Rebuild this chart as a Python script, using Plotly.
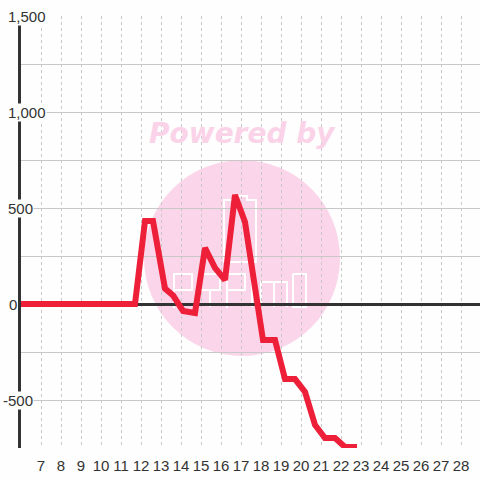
import plotly.graph_objects as go

# data
days = [5.7, 11.7, 12.2, 12.6, 13.2, 13.6, 14.1, 14.7, 15.2, 15.7, 16.2, 16.7, 17.2,
        18.1, 18.7, 19.2, 19.7, 20.2, 20.7, 21.2, 21.7, 22.2, 22.8]
values = [0, 0, 432, 432, 80, 45, -36, -47, 292, 188, 125, 568, 427,
          -188, -188, -391, -391, -458, -630, -698, -698, -745, -745]
x_ticks = list(range(7, 29))
y_label_vals = [-500, 0, 500, 1000, 1500]
y_label_text = ["-500", "0", "500", "1,000", "1,500"]

BG = "#fdfefd"
FONT = "Liberation Sans, Arial"
X0, X1 = 6, 28.95
Y0, Y1 = -750, 1500
L, T, W, H = 21, 16, 459, 432


def px2x(p):
    return X0 + (p - L) / W * (X1 - X0)


def py2y(p):
    return Y1 - (p - T) / H * (Y1 - Y0)


fig = go.Figure()
fig.add_trace(go.Scatter(x=days, y=values, mode="lines",
                         line=dict(color="#ee1f38", width=6),
                         hoverinfo="skip", showlegend=False))

fig.update_layout(
    width=480, height=480,
    margin=dict(l=L, r=480 - L - W, t=T, b=480 - T - H, autoexpand=False),
    paper_bgcolor=BG, plot_bgcolor=BG,
    showlegend=False,
    xaxis=dict(range=[X0, X1], tickvals=x_ticks, ticktext=[str(v) for v in x_ticks],
               tickangle=0,
               showgrid=True, gridcolor="#c8c8c8", gridwidth=1, griddash="3px,3px",
               zeroline=False, showline=False, ticks="outside", ticklen=4, tickcolor="rgba(0,0,0,0)",
               tickfont=dict(family=FONT, size=15, color="#333333")),
    yaxis=dict(range=[Y0, Y1], dtick=250, tick0=0, showticklabels=False,
               showgrid=True, gridcolor="#c8c8c8", gridwidth=1,
               zeroline=True, zerolinecolor="#333333", zerolinewidth=3,
               showline=True, linecolor="#333333", linewidth=3, ticks=""),
)

# watermark circle
cx, cy, r = 242, 258, 98
fig.add_shape(type="circle", xref="x", yref="y", x0=px2x(cx - r), x1=px2x(cx + r),
              y0=py2y(cy + r), y1=py2y(cy - r),
              fillcolor="#fbd5ea", line=dict(width=0), layer="below")


def path(pts_list):
    s = ""
    for pts in pts_list:
        s += "M" + " L".join(f"{px2x(a):.4f},{py2y(b):.2f}" for a, b in pts) + " "
    return s


logo = [
    [(224, 262), (224, 200), (233, 200), (233, 196), (247, 196), (247, 200), (256, 200), (256, 262), (224, 262)],
    [(174, 308), (174, 274), (192, 274), (192, 290), (174, 290)],
    [(200, 290), (200, 274), (220, 274), (220, 290), (200, 290)],
    [(210, 290), (210, 307)],
    [(227, 308), (227, 274), (245, 274), (245, 290), (227, 290)],
    [(252, 282), (252, 307)],
    [(252, 274), (252, 277)],
    [(261, 307), (261, 282), (287, 282), (287, 307)],
    [(274, 282), (274, 307)],
    [(293, 274), (306, 274), (306, 307), (293, 307), (293, 274)],
]
fig.add_shape(type="path", xref="x", yref="y", path=path(logo),
              line=dict(color="white", width=2), layer="below")

fig.add_annotation(x=px2x(242), y=py2y(133), xref="x", yref="y",
                   text="<b><i>Powered by</i></b>", showarrow=False,
                   font=dict(family="DejaVu Sans", size=28, color="#fbd3e9"))

label_left = [2, 8, 7, 7, 7]
for v, t, lx in zip(y_label_vals, y_label_text, label_left):
    fig.add_annotation(x=(lx - L) / W, xref="paper", y=v, yref="y", text=t, showarrow=False,
                       xanchor="left", yanchor="middle", bgcolor=BG, borderpad=0,
                       font=dict(family=FONT, size=15, color="#333333"))

fig.write_html("out.html", config={"displayModeBar": False},
               post_script="document.body.style.margin='0';document.body.style.padding='0';")
